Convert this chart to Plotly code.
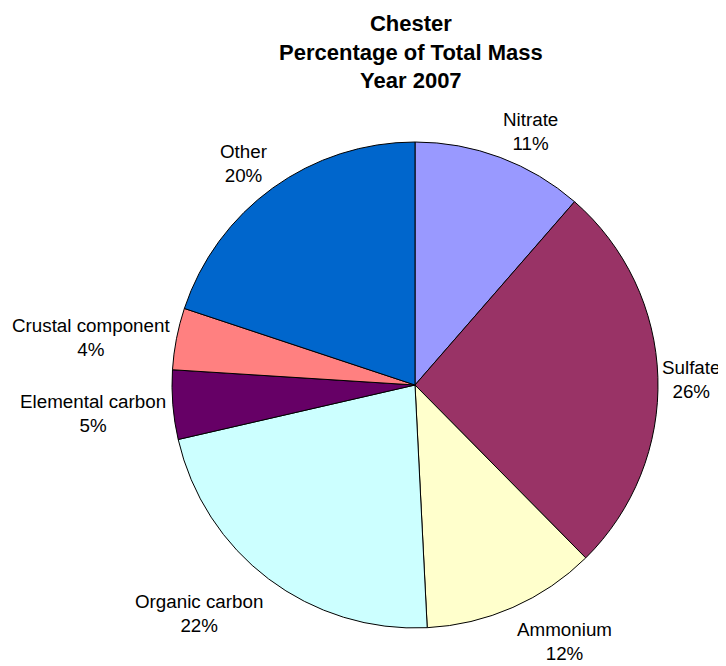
import plotly.graph_objects as go

# Chester PM2.5 composition, year 2007
components = ["Nitrate", "Sulfate", "Ammonium", "Organic carbon",
              "Elemental carbon", "Crustal component", "Other"]
shares = [11.4, 26.2, 11.6, 22.2, 4.6, 4.1, 19.9]
colors = ["#9999FF", "#993366", "#FFFFCC", "#CCFFFF",
          "#660066", "#FF8080", "#0066CC"]

W, H = 726, 666
OFF = 8  # page body margin shifts the plot by this much
cx, cy, r = 415 - OFF, 385 - OFF, 243
FONT = "Liberation Sans, Arial, sans-serif"

# where the excel-style data labels sit (pixel centres on the page)
label_pos = [(530, 131), (691, 380), (564, 641), (199, 613),
             (93, 413), (91, 337), (243, 163)]


def px(x, y):
    return (x - OFF) / W, 1 - (y - OFF) / H


fig = go.Figure(
    go.Pie(
        labels=components,
        values=shares,
        sort=False,
        direction="clockwise",
        rotation=0,
        marker=dict(colors=colors, line=dict(color="black", width=1)),
        textinfo="none",
        hoverinfo="label+percent",
        domain=dict(x=[(cx - r) / W, (cx + r) / W],
                    y=[(H - cy - r) / H, (H - cy + r) / H]),
        showlegend=False,
    )
)

total = sum(shares)
for name, v, (lx, ly) in zip(components, shares, label_pos):
    ax, ay = px(lx, ly)
    fig.add_annotation(
        text=f"{name}<br>{round(v / total * 100)}%",
        x=ax, y=ay,
        xref="paper", yref="paper",
        xanchor="center", yanchor="middle",
        showarrow=False,
        font=dict(family=FONT, size=18.8, color="black"),
    )

tx, ty = px(411, 52)
fig.add_annotation(
    text="<b>Chester<br>Percentage of Total Mass<br>Year 2007</b>",
    x=tx, y=ty,
    xref="paper", yref="paper",
    xanchor="center", yanchor="middle",
    showarrow=False,
    font=dict(family=FONT, size=22, color="black"),
)

fig.update_layout(
    width=W,
    height=H,
    paper_bgcolor="white",
    plot_bgcolor="white",
    margin=dict(l=0, r=0, t=0, b=0),
    font=dict(family=FONT, size=18, color="black"),
)

fig.write_html("out.html")
